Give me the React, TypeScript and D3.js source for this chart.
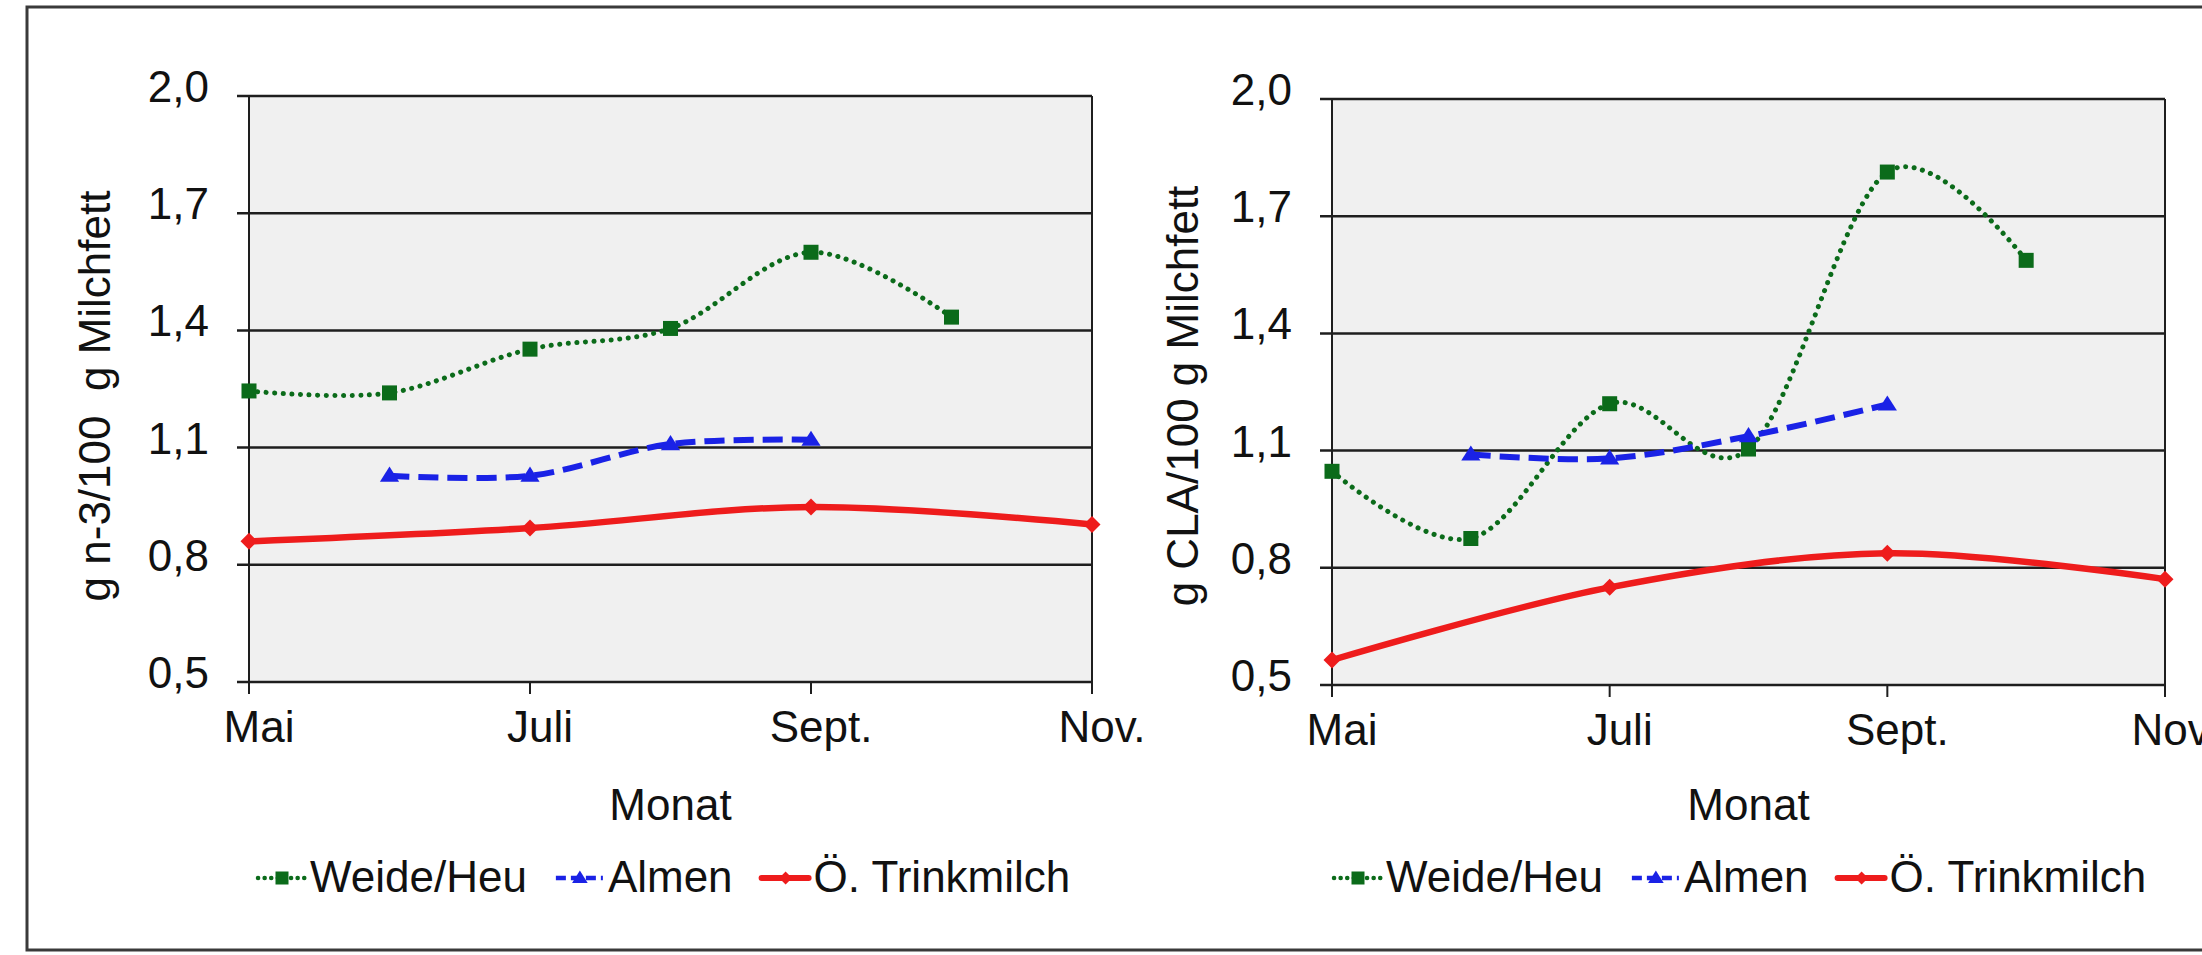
import { useEffect, useRef } from 'react';
import * as d3 from 'd3';

// Monate (Kategorien) und Achsenbeschriftungen
const months = ['Mai', 'Juni', 'Juli', 'Aug.', 'Sept.', 'Okt.', 'Nov.'];
const tickMonths = ['Mai', 'Juli', 'Sept.', 'Nov.'];
const yTicks = [0.5, 0.8, 1.1, 1.4, 1.7, 2.0];
const seriesNames = ['Weide/Heu', 'Almen', 'Ö. Trinkmilch'];

// n-3 Fettsäuren (links)
const n3Weide = [1.245, 1.24, 1.352, 1.405, 1.6, 1.434, null];
const n3Almen = [null, 1.028, 1.028, 1.109, 1.12, null, null];
const n3Trink = [0.86, null, 0.894, null, 0.948, null, 0.903];

// CLA (rechts)
const claWeide = [1.047, 0.875, 1.22, 1.104, 1.813, 1.587, null];
const claAlmen = [null, 1.09, 1.08, 1.137, 1.218, null, null];
const claTrink = [0.564, null, 0.75, null, 0.837, null, 0.771];

const charts = [
  { ylabel: 'g n-3/100  g Milchfett', series: [n3Weide, n3Almen, n3Trink], left: 249, right: 1092, top: 96, bottom: 682, ylabelX: 110, legendX: 256 },
  { ylabel: 'g CLA/100 g Milchfett', series: [claWeide, claAlmen, claTrink], left: 1332, right: 2165, top: 99, bottom: 685, ylabelX: 1198, legendX: 1332 },
];

const styles = [
  { color: '#0b6b1a', width: 5, dash: '0.1 8.5', cap: 'round', marker: 'square', size: 15 },
  { color: '#1a22e6', width: 6, dash: '20 9', cap: 'butt', marker: 'triangle', size: 16 },
  { color: '#ee1c1c', width: 6.5, dash: null, cap: 'round', marker: 'diamond', size: 17 },
];

const FONT = "Arial, 'Liberation Sans', sans-serif";
const fmt = d3.formatLocale({ decimal: ',', thousands: '.', grouping: [3], currency: ['', '€'] }).format('.1f');

const drawMarker = (g: any, type: string, x: number, y: number, color: string, s: number) => {
  if (type === 'square') {
    g.append('rect')
      .attr('x', x - s / 2).attr('y', y - s / 2)
      .attr('width', s).attr('height', s)
      .attr('fill', color);
  } else if (type === 'triangle') {
    const w = s * 1.2;
    const h = s * 0.95;
    g.append('path')
      .attr('d', `M${x},${y - h * 0.6}L${x + w / 2},${y + h * 0.4}L${x - w / 2},${y + h * 0.4}Z`)
      .attr('fill', color);
  } else {
    const r = s * 0.5;
    g.append('path')
      .attr('d', `M${x},${y - r}L${x + r},${y}L${x},${y + r}L${x - r},${y}Z`)
      .attr('fill', color);
  }
};

const App = () => {
  const svgRef = useRef<SVGSVGElement>(null);

  useEffect(() => {
    if (!svgRef.current) return;
    const svg = d3.select(svgRef.current);
    svg.selectAll('*').remove();

    // Rahmen
    svg.append('rect')
      .attr('x', 27).attr('y', 7)
      .attr('width', 2220).attr('height', 943)
      .attr('fill', 'none')
      .attr('stroke', '#3a3a3a')
      .attr('stroke-width', 3);

    charts.forEach(c => {
      const g = svg.append('g');
      const x = d3.scalePoint<string>().domain(months).range([c.left, c.right]);
      const y = d3.scaleLinear().domain([0.5, 2.0]).range([c.bottom, c.top]);

      // Zeichenfläche
      g.append('rect')
        .attr('x', c.left).attr('y', c.top)
        .attr('width', c.right - c.left).attr('height', c.bottom - c.top)
        .attr('fill', '#f0f0f0');

      // Gitterlinien + y-Ticks
      yTicks.forEach(t => {
        g.append('line')
          .attr('x1', c.left - 12).attr('x2', c.right)
          .attr('y1', y(t)).attr('y2', y(t))
          .attr('stroke', '#1e1e1e')
          .attr('stroke-width', 2.5);
        g.append('text')
          .attr('x', c.left - 40)
          .attr('y', y(t) + 6)
          .attr('text-anchor', 'end')
          .attr('font-family', FONT)
          .attr('font-size', 44)
          .attr('fill', '#111')
          .text(fmt(t));
      });

      // Achsen
      g.append('line')
        .attr('x1', c.left).attr('x2', c.left)
        .attr('y1', c.top).attr('y2', c.bottom + 12)
        .attr('stroke', '#1e1e1e').attr('stroke-width', 2);
      g.append('line')
        .attr('x1', c.right).attr('x2', c.right)
        .attr('y1', c.top).attr('y2', c.bottom)
        .attr('stroke', '#1e1e1e').attr('stroke-width', 2);

      tickMonths.forEach(m => {
        const px = x(m) as number;
        g.append('line')
          .attr('x1', px).attr('x2', px)
          .attr('y1', c.bottom).attr('y2', c.bottom + 12)
          .attr('stroke', '#1e1e1e').attr('stroke-width', 2);
        g.append('text')
          .attr('x', px + 10)
          .attr('y', c.bottom + 60)
          .attr('text-anchor', 'middle')
          .attr('font-family', FONT)
          .attr('font-size', 44)
          .attr('fill', '#111')
          .text(m);
      });

      // Achsentitel
      g.append('text')
        .attr('x', (c.left + c.right) / 2)
        .attr('y', 820)
        .attr('text-anchor', 'middle')
        .attr('font-family', FONT)
        .attr('font-size', 44)
        .attr('fill', '#111')
        .text('Monat');

      g.append('text')
        .attr('transform', `translate(${c.ylabelX},396) rotate(-90)`)
        .attr('text-anchor', 'middle')
        .attr('font-family', FONT)
        .attr('font-size', 44)
        .attr('fill', '#111')
        .style('white-space', 'pre')
        .text(c.ylabel);

      // Linien
      c.series.forEach((vals, i) => {
        const st = styles[i];
        const pts = months
          .map((m, k) => [m, vals[k]] as [string, number | null])
          .filter(d => d[1] !== null) as [string, number][];
        const line = d3.line<[string, number]>()
          .x(d => x(d[0]) as number)
          .y(d => y(d[1]))
          .curve(d3.curveCardinal.tension(0));
        g.append('path')
          .attr('d', line(pts))
          .attr('fill', 'none')
          .attr('stroke', st.color)
          .attr('stroke-width', st.width)
          .attr('stroke-linecap', st.cap)
          .attr('stroke-dasharray', st.dash);
        pts.forEach(p => drawMarker(g, st.marker, x(p[0]) as number, y(p[1]), st.color, st.size));
      });

      // Legende
      let lx = c.legendX;
      const ly = 892;
      seriesNames.forEach((name, i) => {
        const st = styles[i];
        g.append('line')
          .attr('x1', lx + 2).attr('x2', lx + 49)
          .attr('y1', ly - 14).attr('y2', ly - 14)
          .attr('stroke', st.color)
          .attr('stroke-width', i === 2 ? 6 : 4.5)
          .attr('stroke-linecap', st.cap)
          .attr('stroke-dasharray', i === 0 ? '0.1 6.5' : i === 1 ? '10 5' : null);
        drawMarker(g, st.marker, lx + 26, ly - 14, st.color, 13);
        const t = g.append('text')
          .attr('x', lx + 54)
          .attr('y', ly)
          .attr('font-family', FONT)
          .attr('font-size', 44)
          .attr('fill', '#111')
          .text(name);
        const w = (t.node() as SVGTextElement).getComputedTextLength();
        lx += 54 + w + 27;
      });
    });
  }, []);

  return (
    <svg
      ref={svgRef}
      width={2202}
      height={955}
      style={{ position: 'absolute', left: 0, top: 0, background: '#fff' }}
    />
  );
};

export default App;
